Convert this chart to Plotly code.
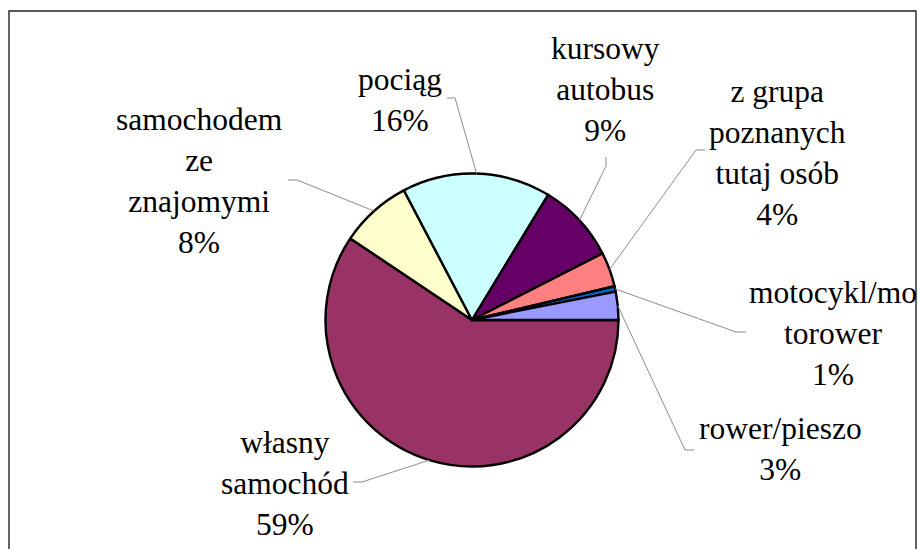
import math
import plotly.graph_objects as go

# ---- data ----
categories = ["własny samochód", "samochodem ze znajomymi", "pociąg", "kursowy autobus",
              "z grupa poznanych tutaj osób", "motocykl/motorower", "rower/pieszo"]
values = [59.4, 7.9, 16.4, 8.8, 3.8, 0.6, 3.1]
label_lines = ["własny<br>samochód", "samochodem<br>ze<br>znajomymi", "pociąg",
               "kursowy<br>autobus", "z grupa<br>poznanych<br>tutaj osób",
               "motocykl/mo<br>torower", "rower/pieszo"]
colors = ["#993366", "#FFFFCC", "#CCFFFF", "#660066", "#FF8080", "#0066CC", "#9999FF"]

# ---- layout / style (pixels) ----
W, H = 918, 549
CX, CY, R = 472, 320, 146.5
FONT = "Liberation Serif"
# label block centres
label_pos = [(285, 483), (199, 181), (400, 100), (605, 89), (777, 153), (833, 333), (780, 449)]
# leader line elbow and end points
leader_elbow = [(362, 482), (297, 180), (455, 98), (606, 166), (696, 150), (736, 332), (685, 450)]
leader_end = [(353, 482), (288, 180), (447, 98), (606, 157), (705, 150), (746, 332), (694, 450)]

def px(x):
    return x / W

def py(y):
    return 1 - y / H

fig = go.Figure()
fig.add_trace(go.Pie(
    labels=categories, values=values, sort=False, direction="clockwise", rotation=90,
    marker=dict(colors=colors, line=dict(color="black", width=2.4)),
    textinfo="none", hoverinfo="label+percent", showlegend=False,
    domain=dict(x=[px(CX - R), px(CX + R)], y=[py(CY + R), py(CY - R)]),
))

total = sum(values)
shapes = []
annotations = []
cum = 0
for i, v in enumerate(values):
    mid = math.radians(90 + (cum + v / 2) / total * 360)
    cum += v
    rx, ry = CX + R * math.sin(mid), CY - R * math.cos(mid)
    ex, ey = leader_elbow[i]
    tx, ty = leader_end[i]
    path = f"M {px(rx)},{py(ry)} L {px(ex)},{py(ey)} L {px(tx)},{py(ty)}"
    shapes.append(dict(type="path", xref="paper", yref="paper", path=path,
                       line=dict(color="#8c8c8c", width=1)))
    pct = round(v / total * 100)
    lx, ly = label_pos[i]
    annotations.append(dict(
        x=px(lx), y=py(ly), xref="paper", yref="paper", xanchor="center", yanchor="middle",
        text=f"{label_lines[i]}<br>{pct}%", showarrow=False, align="center",
        font=dict(family=FONT, size=31.5, color="black"),
    ))

# chart frame
shapes.append(dict(type="rect", xref="paper", yref="paper",
                   x0=px(9), x1=px(916), y0=py(560), y1=py(11),
                   line=dict(color="#222222", width=1.4), layer="below"))

fig.update_layout(
    width=W, height=H, margin=dict(l=0, r=0, t=0, b=0),
    paper_bgcolor="white", plot_bgcolor="white",
    font=dict(family=FONT),
    shapes=shapes, annotations=annotations,
)
fig.write_html("out.html", config={"displayModeBar": False},
               post_script="document.body.style.margin='0';document.body.style.overflow='hidden';")
